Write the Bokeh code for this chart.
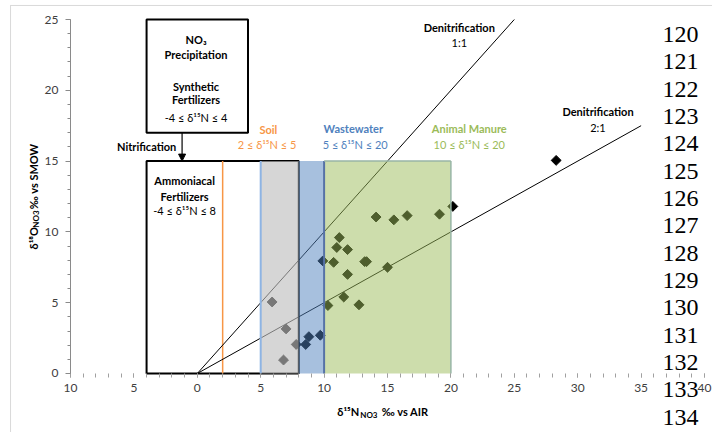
from bokeh.plotting import figure
from bokeh.models import (Range1d, Label, Arrow, NormalHead, FixedTicker, BoxAnnotation,
                          ColumnDataSource, LinearAxis)
from bokeh.embed import file_html
from bokeh.resources import INLINE
import numpy as np

# ---------------- data ----------------
d15N = [5.9, 7.0, 6.8, 7.8, 8.55, 8.8, 9.7, 9.9, 10.3, 10.75, 11.0, 11.2, 11.85, 11.85,
        11.55, 12.75, 13.2, 13.35, 15.0, 14.1, 15.5, 16.55, 19.1, 20.15, 28.3]
d18O = [5.05, 3.15, 0.95, 2.05, 2.05, 2.6, 2.7, 7.95, 4.8, 7.85, 8.9, 9.6, 8.75, 7.0,
        5.4, 4.85, 7.9, 7.9, 7.5, 11.05, 10.85, 11.15, 11.25, 11.8, 15.05]

x_ticks = [-10, -5, 0, 5, 10, 15, 20, 25, 30, 35, 40]
x_tick_labels = ["10", "5", "0", "5", "10", "15", "20", "25", "30", "35", "40"]
y_ticks = [0, 5, 10, 15, 20, 25]
x_bounds = (-10, 40)
y_bounds = (0, 25)

# source ranges (d15N)
precip_range = (-4, 4)
ammon_range = (-4, 8)
soil_start = 2
overlay_names = ["soil", "wastewater", "manure"]
overlay_left = [5, 8, 10]
overlay_right = [8, 10, 20]
overlay_colors = ["#bebebe", "#4F81BD", "#9BBB59"]
overlay_alpha = [0.63, 0.5, 0.5]
source_top = 15
precip_bottom, precip_top = 17, 25

denit_slopes = [1.0, 0.5]
denit_end_x = [25, 35]

line_numbers = list(range(120, 135))

# ---------------- figure ----------------
# the frame covers the whole canvas; axes are pinned at x=-10 / y=0
p = figure(width=712, height=432, output_backend="svg", toolbar_location=None,
           x_range=Range1d(-15.52, 40.63), y_range=Range1d(-4.167, 26.342),
           x_axis_type=None, y_axis_type=None,
           min_border_left=0, min_border_right=0, min_border_top=0, min_border_bottom=0)
p.outline_line_color = None
p.background_fill_color = "white"
p.border_fill_color = "white"

xa = LinearAxis(fixed_location=y_bounds[0], bounds=x_bounds)
xa.ticker = FixedTicker(ticks=x_ticks, minor_ticks=list(range(x_bounds[0], x_bounds[1] + 1)))
xa.major_label_overrides = {t: l for t, l in zip(x_ticks, x_tick_labels)}
xa.axis_line_color = None
xa.major_tick_line_color = "#a0a0a0"
xa.minor_tick_line_color = "#a0a0a0"
xa.major_tick_in = 0
xa.major_tick_out = 4
xa.minor_tick_in = 0
xa.minor_tick_out = 4
xa.major_label_standoff = 7
xa.major_label_text_font = "Lato"
xa.major_label_text_font_size = "12px"
xa.major_label_text_color = "#404040"
p.add_layout(xa, "below")

ya = LinearAxis(fixed_location=x_bounds[0], bounds=y_bounds)
ya.ticker = FixedTicker(ticks=y_ticks, minor_ticks=list(range(y_bounds[0], y_bounds[1] + 1)))
ya.axis_line_color = "#8a8a8a"
ya.major_tick_line_color = "#8a8a8a"
ya.minor_tick_line_color = "#8a8a8a"
ya.major_tick_in = 0
ya.major_tick_out = 5
ya.minor_tick_in = 0
ya.minor_tick_out = 3
ya.major_label_standoff = 7
ya.major_label_text_font = "Lato"
ya.major_label_text_font_size = "12px"
ya.major_label_text_color = "#404040"
p.add_layout(ya, "left")

# outer page frame (left and top edges visible)
p.add_layout(BoxAnnotation(left=-14.73, right=60, bottom=-20, top=25.99,
                           fill_color=None, line_color="#808080", line_width=1))

# source boxes (white, black border)
p.quad(left=[ammon_range[0]], right=[ammon_range[1]], bottom=[0], top=[source_top],
       fill_color="white", line_color="black", line_width=2)
p.quad(left=[precip_range[0]], right=[precip_range[1]], bottom=[precip_bottom], top=[precip_top],
       fill_color="white", line_color="black", line_width=2)
p.segment(x0=[soil_start], y0=[0], x1=[soil_start], y1=[source_top], line_color="#F79646", line_width=1.5)

# denitrification lines
for s, xe in zip(denit_slopes, denit_end_x):
    p.line([0, xe], [0, s * xe], line_color="black", line_width=1)

# data points
p.scatter(d15N, d18O, marker="square", angle=np.pi / 4, size=7,
          fill_color="black", line_color="black")

# translucent source overlays
src = ColumnDataSource(dict(left=overlay_left, right=overlay_right,
                            bottom=[0] * 3, top=[source_top] * 3,
                            color=overlay_colors, alpha=overlay_alpha))
p.quad(left="left", right="right", bottom="bottom", top="top", source=src,
       fill_color="color", fill_alpha="alpha", line_color=None)
p.segment(x0=[overlay_left[0]], y0=[0], x1=[overlay_left[0]], y1=[source_top],
          line_color="#8eb4e3", line_width=2)
p.segment(x0=[overlay_left[2]], y0=[0], x1=[overlay_left[2]], y1=[source_top],
          line_color="#5672a6", line_width=2)
p.segment(x0=[overlay_right[2], overlay_left[2]], y0=[0, source_top],
          x1=[overlay_right[2], overlay_right[2]], y1=[source_top, source_top],
          line_color="#98b5a6", line_width=1.5)

# nitrification arrow
p.add_layout(Arrow(x_start=-1.2, y_start=precip_bottom, x_end=-1.2, y_end=source_top,
                   line_color="black", line_width=1.2,
                   end=NormalHead(size=7, fill_color="black", line_color="black")))

def lab(x, y, text, size="11px", bold=True, color="black", align="center", angle=0,
        font="Lato", baseline="middle"):
    p.add_layout(Label(x=x, y=y, text=text, text_font=font, text_font_size=size,
                       text_font_style="bold" if bold else "normal", text_color=color,
                       text_align=align, text_baseline=baseline, angle=angle))

# box texts
lab(-0.1, 23.6, "NO₃")
lab(-0.1, 22.5, "Precipitation")
lab(-0.1, 20.3, "Synthetic")
lab(-0.1, 19.35, "Fertilizers")
lab(-0.1, 18.1, "-4 ≤ δ¹⁵N ≤ 4", bold=False)
lab(-1.66, 16.03, "Nitrification", align="right")
lab(-1.0, 13.6, "Ammoniacal")
lab(-1.0, 12.5, "Fertilizers")
lab(-1.0, 11.5, "-4 ≤ δ¹⁵N ≤ 8", bold=False)

lab(5.6, 17.25, "Soil", color="#F79646")
lab(5.5, 16.2, "2 ≤ δ¹⁵N ≤ 5", bold=False, color="#F79646")
lab(12.3, 17.3, "Wastewater", color="#4F81BD")
lab(12.45, 16.2, "5 ≤ δ¹⁵N ≤ 20", bold=False, color="#4F81BD")
lab(21.45, 17.3, "Animal Manure", color="#9BBB59")
lab(21.45, 16.2, "10 ≤ δ¹⁵N ≤ 20", bold=False, color="#9BBB59")

lab(20.66, 24.43, "Denitrification")
lab(20.66, 23.4, "1:1", bold=False)
lab(31.6, 18.5, "Denitrification")
lab(31.6, 17.37, "2:1", bold=False)

# axis titles (composed for subscripts)
lab(11.04, -2.68, "δ¹⁵N", align="left")
lab(12.85, -2.9, "NO3", size="8px", align="left")
lab(14.55, -2.68, "‰ vs AIR", align="left")

lab(-12.93, 8.76, "δ¹⁸O", align="left", angle=np.pi / 2)
lab(-12.72, 10.3, "NO3", size="8px", align="left", angle=np.pi / 2)
lab(-12.93, 11.6, "‰ vs SMOW", align="left", angle=np.pi / 2)

# manuscript line numbers
ln_y0, ln_step = 23.94, 1.93
for i, n in enumerate(line_numbers):
    lab(38.1, ln_y0 - i * ln_step, str(n), size="24px", bold=False, font="Liberation Serif")

open("out.html", "w").write(file_html(p, INLINE))
